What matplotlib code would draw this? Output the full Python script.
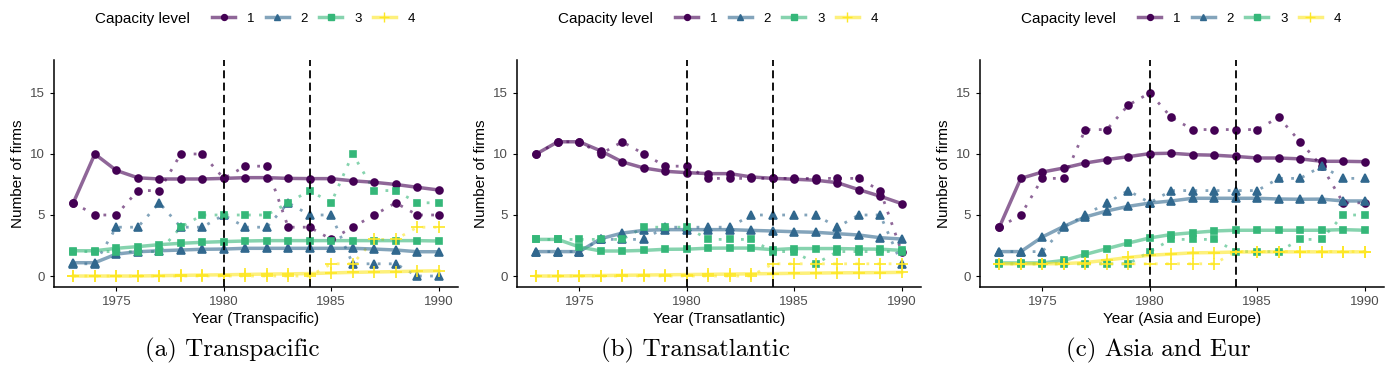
import matplotlib
matplotlib.use("Agg")
import matplotlib.pyplot as plt
from matplotlib.lines import Line2D

plt.rcParams['font.family'] = ['Liberation Sans', 'DejaVu Sans']

years = list(range(1973, 1991))
levels = ['1', '2', '3', '4']
colors = ['#440154', '#31688E', '#35B779', '#FDE725']
markers = ['o', '^', 's', '+']
msizes = [5, 5.6, 5, 8]

# (a) Transpacific
tp_raw = [
    [6, 5, 5, 7, 7, 10, 10, 8, 9, 9, 4, 4, 3, 4, 5, 6, 5, 5],
    [1, 1, 4, 4, 6, 4, 4, 5, 4, 4, 6, 5, 5, 1, 1, 1, 0, 0],
    [2, 2, 2, 2, 2, 4, 5, 5, 5, 5, 6, 7, 6, 10, 7, 7, 6, 6],
    [0, 0, 0, 0, 0, 0, 0, 0, 0, 0, 0, 0, 1, 1, 3, 3, 4, 4],
]
tp_smooth = [
    [6, 10, 8.65, 8.05, 7.95, 7.95, 7.95, 8.0, 8.06, 8.06, 8.0, 7.98, 7.98, 7.8, 7.68, 7.5, 7.27, 7.05],
    [1.09, 1.09, 1.8, 1.99, 2.07, 2.13, 2.19, 2.21, 2.27, 2.27, 2.27, 2.27, 2.27, 2.27, 2.21, 2.13, 1.99, 1.99],
    [2.07, 2.07, 2.27, 2.41, 2.57, 2.68, 2.76, 2.82, 2.87, 2.9, 2.9, 2.9, 2.9, 2.9, 2.9, 2.9, 2.9, 2.87],
    [0, 0, 0, 0, 0.03, 0.05, 0.08, 0.1, 0.13, 0.16, 0.18, 0.2, 0.25, 0.3, 0.33, 0.36, 0.4, 0.43],
]

# (b) Transatlantic
ta_raw = [
    [10, 11, 11, 10, 11, 10, 9, 9, 8, 8, 8, 8, 8, 8, 8, 8, 7, 2],
    [2, 2, 2, 3, 3, 3, 4, 4, 4, 4, 5, 5, 5, 5, 4, 5, 5, 1],
    [3, 3, 3, 3, 3, 4, 4, 4, 3, 3, 3, 2, 2, 1, 2, 2, 2, 2],
    [0, 0, 0, 0, 0, 0, 0, 0, 0, 0, 0, 1, 1, 1, 1, 1, 1, 1],
]
ta_smooth = [
    [10, 11, 11, 10.25, 9.35, 8.85, 8.58, 8.47, 8.39, 8.39, 8.12, 8.0, 7.93, 7.85, 7.65, 7.08, 6.54, 5.93],
    [2, 2, 2, 3.06, 3.52, 3.74, 3.8, 3.8, 3.8, 3.8, 3.74, 3.69, 3.63, 3.58, 3.47, 3.36, 3.14, 3.03],
    [3, 3, 2.38, 2.05, 2.05, 2.1, 2.19, 2.2, 2.28, 2.29, 2.29, 2.16, 2.25, 2.25, 2.25, 2.22, 2.2, 2.1],
    [0, 0, 0.02, 0.04, 0.06, 0.08, 0.1, 0.12, 0.14, 0.16, 0.18, 0.2, 0.22, 0.24, 0.26, 0.27, 0.28, 0.3],
]

# (c) Asia and Europe
ae_raw = [
    [4, 5, 8, 8, 12, 12, 14, 15, 13, 12, 12, 12, 12, 13, 11, 9, 6, 6],
    [2, 2, 2, 4, 5, 6, 7, 6, 7, 7, 7, 7, 7, 8, 8, 9, 8, 8],
    [1, 1, 1, 1, 1, 1, 1, 2, 3, 3, 3, 2, 2, 2, 3, 3, 5, 5],
    [1, 1, 1, 1, 1, 1, 1, 1, 1, 1, 1, 2, 2, 2, 2, 2, 2, 2],
]
ae_smooth = [
    [4, 8, 8.52, 8.85, 9.26, 9.54, 9.78, 10.03, 10.06, 9.94, 9.9, 9.8, 9.67, 9.67, 9.6, 9.4, 9.4, 9.37],
    [2, 2, 3.2, 4.07, 4.84, 5.33, 5.71, 5.98, 6.15, 6.37, 6.37, 6.37, 6.37, 6.31, 6.29, 6.3, 6.15, 6.15],
    [1.07, 1.07, 1.07, 1.28, 1.77, 2.24, 2.7, 3.12, 3.4, 3.55, 3.69, 3.75, 3.75, 3.75, 3.75, 3.75, 3.8, 3.75],
    [1, 1, 1, 1.02, 1.1, 1.3, 1.52, 1.7, 1.8, 1.9, 1.92, 1.97, 1.97, 1.98, 1.98, 1.98, 1.98, 1.98],
]

panels = [
    (tp_raw, tp_smooth, 'Year (Transpacific)', '(a) Transpacific'),
    (ta_raw, ta_smooth, 'Year (Transatlantic)', '(b) Transatlantic'),
    (ae_raw, ae_smooth, 'Year (Asia and Europe)', '(c) Asia and Eur'),
]
breaks = [1980, 1984]

W, H = 1389, 375
fig = plt.figure(figsize=(W / 100, H / 100), dpi=100)

lefts = [54, 517, 980]
for i, (raw, smooth, xlab, caption) in enumerate(panels):
    left = lefts[i]
    ax = fig.add_axes([left / W, 88 / H, 404 / W, 227 / H])
    for k in range(4):
        # raw counts: dotted
        ax.plot(years, raw[k], color=colors[k], ls=(0, (1, 3)), lw=2, alpha=0.6, zorder=2)
        ax.plot(years, raw[k], ls='none', marker=markers[k], ms=msizes[k], color=colors[k],
                mew=1.2, zorder=4)
        # smoothed: solid
        ax.plot(years, smooth[k], color=colors[k], lw=2.5, alpha=0.6, zorder=3)
        ax.plot(years, smooth[k], ls='none', marker=markers[k], ms=msizes[k], color=colors[k],
                mew=1.2, zorder=4)
    for b in breaks:
        ax.axvline(b, color='black', ls=(0, (4.4, 2.4)), lw=1.3, zorder=5)

    ax.set_xlim(1972.1, 1990.9)
    ax.set_ylim(-0.9, 17.7)
    ax.set_xticks([1975, 1980, 1985, 1990])
    ax.set_yticks([0, 5, 10, 15])
    ax.tick_params(labelsize=9.5, labelcolor='#4d4d4d', length=3, width=0.8)
    for s in ['top', 'right']:
        ax.spines[s].set_visible(False)
    for s in ['left', 'bottom']:
        ax.spines[s].set_linewidth(1.1)
    ax.set_xlabel(xlab, fontsize=11, labelpad=3)
    ax.set_ylabel('Number of firms', fontsize=11, labelpad=4)

    # legend on top
    fig.text((left + 41) / W, 1 - 19 / H, 'Capacity level', fontsize=11, va='center', ha='left')
    handles = [(Line2D([], [], color=colors[k], lw=2.5, alpha=0.6),
                Line2D([], [], ls='none', marker=markers[k], ms=msizes[k] * 0.85, color=colors[k], mew=1.0))
               for k in range(4)]
    fig.legend(handles, levels, loc='center left', bbox_to_anchor=((left + 158) / W, 1 - 19 / H),
               ncol=4, frameon=False, fontsize=9.5, handlelength=1.75, handletextpad=0.9,
               columnspacing=0.85, borderpad=0, borderaxespad=0)

    fig.text((left + 178) / W, 25 / H, caption, fontsize=18, ha='center', va='center',
             family=['cmr10', 'DejaVu Serif'])

fig.savefig('out.png', dpi=100)
